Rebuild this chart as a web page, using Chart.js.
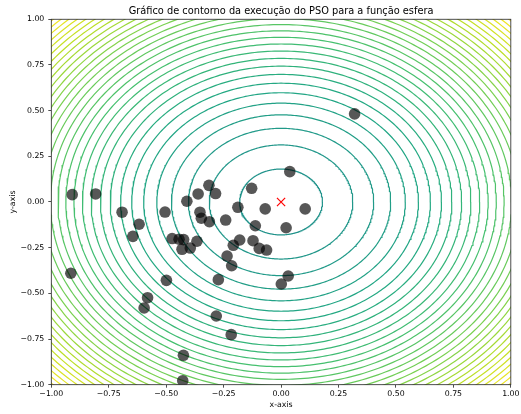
<!DOCTYPE html>
<html>
<head>
<meta charset="utf-8">
<script src="https://cdn.jsdelivr.net/npm/chart.js@4"></script>
<style>
  html, body { margin: 0; padding: 0; background: #fff; }
  #wrap { width: 521px; height: 414px; position: relative; }
</style>
</head>
<body>
<div id="wrap"><canvas id="chart"></canvas></div>
<script>
// Contour levels of f(x, y) = x^2 + y^2 (sphere function)
const contourLevels = [
  0.0325, 0.0975, 0.1625, 0.2275, 0.2925, 0.3575, 0.4225, 0.4875,
  0.5525, 0.6175, 0.6825, 0.7475, 0.8125, 0.8775, 0.9425, 1.0075,
  1.0725, 1.1375, 1.2025, 1.2675, 1.3325, 1.3975, 1.4625, 1.5275,
  1.5925, 1.6575, 1.7225, 1.7875, 1.8525, 1.9175, 1.9825
];

// Particle positions
const particleX = [
  0.32, 0.038, -0.128, -0.069, 0.105, 0.022, -0.112, -0.188, -0.241, -0.314,
  -0.285, -0.361, -0.41, -0.353, -0.347, -0.312, -0.505, -0.692, -0.618, -0.645,
  -0.807, -0.909, -0.915, -0.474, -0.444, -0.424, -0.431, -0.395, -0.366, -0.18,
  -0.208, -0.122, -0.095, -0.063, -0.235, -0.215, -0.273, 0.031, 0.001, -0.499,
  -0.581, -0.596, -0.282, -0.217, -0.425, -0.428
];
const particleY = [
  0.482, 0.166, 0.075, -0.038, -0.038, -0.141, -0.13, -0.029, -0.099, 0.091,
  0.046, 0.044, 0.004, -0.056, -0.089, -0.108, -0.055, -0.056, -0.122, -0.188,
  0.044, 0.04, -0.39, -0.2, -0.204, -0.206, -0.259, -0.252, -0.215, -0.208,
  -0.237, -0.212, -0.254, -0.263, -0.296, -0.349, -0.425, -0.405, -0.449, -0.429,
  -0.524, -0.58, -0.624, -0.726, -0.839, -0.978
];

// Global optimum
const optimumX = [0];
const optimumY = [0];

const axisTicks = [-1, -0.75, -0.5, -0.25, 0, 0.25, 0.5, 0.75, 1];

// viridis colour map
const viridisStops = ['#440154','#482475','#414487','#355f8d','#2a788e','#21918c',
                      '#22a884','#44bf70','#7ad151','#bddf26','#fde725'];
function hexToRgb(h) {
  return [parseInt(h.slice(1,3),16), parseInt(h.slice(3,5),16), parseInt(h.slice(5,7),16)];
}
function viridis(t) {
  t = Math.max(0, Math.min(1, t));
  const p = t * (viridisStops.length - 1);
  const i = Math.min(Math.floor(p), viridisStops.length - 2);
  const f = p - i;
  const a = hexToRgb(viridisStops[i]), b = hexToRgb(viridisStops[i + 1]);
  const c = a.map((v, k) => Math.round(v + (b[k] - v) * f));
  return `rgb(${c[0]},${c[1]},${c[2]})`;
}
// colour normalisation range
const normMin = -2, normMax = 2;

// level set x^2 + y^2 = z is a circle of radius sqrt(z)
function levelCurve(z) {
  const r = Math.sqrt(z);
  const n = 360;
  const pts = [];
  for (let i = 0; i <= n; i++) {
    const a = (i / n) * Math.PI * 2;
    pts.push({ x: r * Math.cos(a), y: r * Math.sin(a) });
  }
  return pts;
}

const contourSets = contourLevels.map(z => ({
  type: 'line',
  data: levelCurve(z),
  borderColor: viridis((z - normMin) / (normMax - normMin)),
  borderWidth: 1.2,
  pointRadius: 0,
  fill: false,
  tension: 0,
  order: 3
}));

const particleSet = {
  type: 'scatter',
  data: particleX.map((x, i) => ({ x, y: particleY[i] })),
  pointRadius: 5.8,
  pointBackgroundColor: 'rgba(0,0,0,0.66)',
  pointBorderWidth: 0,
  borderWidth: 0,
  order: 2
};

const optimumSet = {
  type: 'scatter',
  data: optimumX.map((x, i) => ({ x, y: optimumY[i] })),
  pointStyle: 'crossRot',
  pointRadius: 5.8,
  pointBorderColor: '#ff0000',
  pointBorderWidth: 1.2,
  order: 1
};

const frame = {
  id: 'frame',
  afterDatasetsDraw(chart) {
    const { ctx, chartArea: a } = chart;
    ctx.save();
    ctx.strokeStyle = '#222';
    ctx.lineWidth = 0.8;
    ctx.strokeRect(a.left, a.top, a.right - a.left, a.bottom - a.top);
    ctx.restore();
  }
};

const fmt = v => {
  const s = Math.abs(v).toFixed(2);
  return v < -1e-9 ? '\u2212' + s : s;
};

const tickFont = { family: 'DejaVu Sans', size: 7.8 };

new Chart(document.getElementById('chart'), {
  data: { datasets: [optimumSet, particleSet, ...contourSets] },
  options: {
    responsive: true,
    maintainAspectRatio: false,
    animation: false,
    layout: { padding: { left: 0, right: 9.3, top: 0, bottom: 0 } },
    plugins: {
      legend: { display: false },
      tooltip: { enabled: false },
      title: {
        display: true,
        fullSize: false,
        text: 'Gráfico de contorno da execução do PSO para a função esfera',
        color: '#000',
        font: { family: 'DejaVu Sans', size: 9.8, weight: 'normal', lineHeight: 1.2 },
        padding: { top: 5.3, bottom: 2.2 }
      }
    },
    scales: {
      x: {
        type: 'linear',
        min: -1, max: 1,
        afterBuildTicks(s) { s.ticks = axisTicks.map(v => ({ value: v })); },
        afterFit(s) { s.height = 29.3; },
        ticks: { callback: fmt, color: '#000', font: tickFont, padding: 1.5, maxRotation: 0, autoSkip: false },
        grid: { drawOnChartArea: false, drawTicks: true, tickLength: 3, color: '#222', lineWidth: 0.8 },
        border: { display: false },
        title: { display: true, text: 'x-axis', color: '#000', font: tickFont, padding: { top: 0, bottom: 4.2 } }
      },
      y: {
        type: 'linear',
        min: -1, max: 1,
        afterBuildTicks(s) { s.ticks = axisTicks.map(v => ({ value: v })); },
        afterFit(s) { s.width = 51.3; },
        ticks: { callback: fmt, color: '#000', font: tickFont, padding: 4, autoSkip: false },
        grid: { drawOnChartArea: false, drawTicks: true, tickLength: 3, color: '#222', lineWidth: 0.8 },
        border: { display: false },
        title: { display: true, text: 'y-axis', color: '#000', font: tickFont, padding: { top: 8, bottom: 0 } }
      }
    }
  },
  plugins: [frame]
});
</script>
</body>
</html>
